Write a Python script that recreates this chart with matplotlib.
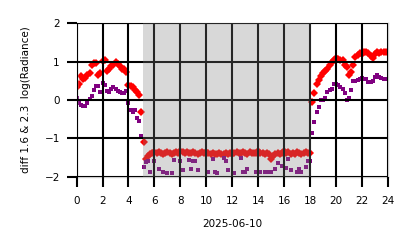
import matplotlib
matplotlib.use("Agg")
import matplotlib.pyplot as plt
import numpy as np

# hours of the day, 10 minute steps
hours = np.arange(144) / 6.0

# diff of log radiance, 1.6 um channel (red)
diff_16 = [
    0.35, 0.42, 0.63, 0.55, 0.58, 0.66,
    0.70, 0.92, 0.96, 0.97, 0.66, 0.70,
    1.02, 1.05, 0.76, 0.82, 0.88, 0.92,
    1.00, 0.94, 0.88, 0.80, 0.82, 0.72,
    0.40, 0.37, 0.33, 0.27, 0.21, 0.14,
    -0.32, -1.10, -1.55, -1.46, -1.40, -1.37,
    -1.36, -1.38, -1.35, -1.37, -1.40, -1.38,
    -1.36, -1.39, -1.42, -1.38, -1.35, -1.37,
    -1.33, -1.36, -1.38, -1.35, -1.37, -1.39,
    -1.36, -1.38, -1.40, -1.37, -1.36, -1.39,
    -1.35, -1.38, -1.41, -1.39, -1.42, -1.40,
    -1.38, -1.40, -1.42, -1.39, -1.41, -1.38,
    -1.40, -1.37, -1.36, -1.39, -1.38, -1.36,
    -1.37, -1.40, -1.36, -1.38, -1.39, -1.37,
    -1.34, -1.37, -1.39, -1.42, -1.38, -1.41,
    -1.55, -1.45, -1.42, -1.39, -1.40, -1.37,
    -1.34, -1.37, -1.36, -1.40, -1.38, -1.41,
    -1.36, -1.39, -1.42, -1.37, -1.35, -1.38,
    -1.38, -0.05, 0.17, 0.42, 0.52, 0.63,
    0.70, 0.75, 0.80, 0.90, 0.98, 1.04,
    1.09, 1.08, 1.05, 1.04, 0.90, 0.86,
    0.65, 0.72, 0.91, 1.12, 1.18, 1.22,
    1.20, 1.24, 1.26, 1.22, 1.15, 1.10,
    1.20, 1.26, 1.22, 1.25, 1.24, 1.26,
]

# diff of log radiance, 2.3 um channel (purple)
diff_23 = [
    0.04, -0.09, -0.12, -0.15, -0.15, -0.07,
    0.02, 0.10, 0.26, 0.37, 0.36, 0.20,
    0.45, 0.40, 0.24, 0.22, 0.30, 0.33,
    0.30, 0.24, 0.20, 0.19, 0.17, 0.24,
    -0.09, -0.26, -0.30, -0.27, -0.47, -0.56,
    -0.94, -1.76, -1.61, -1.60, -1.87, -2.10,
    -1.60, -2.15, -1.81, -2.05, -1.87, -2.20,
    -1.91, -2.10, -1.90, -1.57, -2.05, -2.30,
    -1.59, -1.83, -2.10, -2.20, -1.57, -1.80,
    -1.60, -1.58, -1.83, -2.10, -2.25, -2.05,
    -2.10, -1.87, -2.20, -1.55, -1.87, -1.90,
    -2.15, -2.05, -1.50, -1.60, -1.83, -2.10,
    -2.20, -1.90, -2.05, -2.30, -1.50, -1.87,
    -1.88, -1.80, -2.10, -2.20, -2.05, -1.87,
    -2.15, -1.87, -2.10, -1.89, -2.20, -1.87,
    -1.87, -2.05, -1.81, -1.64, -2.10, -1.72,
    -2.05, -1.78, -1.55, -1.83, -2.15, -2.10,
    -1.88, -1.81, -1.87, -2.20, -1.74, -1.58,
    -1.60, -0.87, -0.57, -0.30, -0.18, 0.00,
    0.00, 0.05, 0.22, 0.25, 0.30, 0.43,
    0.43, 0.39, 0.35, 0.30, 0.17, 0.00,
    0.05, 0.26, 0.50, 0.50, 0.52, 0.55,
    0.57, 0.55, 0.55, 0.48, 0.48, 0.50,
    0.60, 0.65, 0.60, 0.58, 0.55, 0.55,
]

night_start = 5.15
night_end = 18.05

fig = plt.figure(figsize=(4.14, 2.48), dpi=100)
ax = fig.add_axes([0.185, 0.2875, 0.752, 0.6185])

ax.plot(hours, diff_16, 'D', color='red', ms=4.0, mew=0, zorder=2)
ax.plot(hours, diff_23, 's', color='purple', ms=3.0, mew=0, zorder=2)

# night shading sits on top of the points
ax.axvspan(night_start, night_end, color='gray', alpha=0.3, lw=0, zorder=3)

ax.set_xlim(0, 24)
ax.set_ylim(-2, 2)
ax.set_xticks(np.arange(0, 25, 2))
ax.set_yticks([-2, -1, 0, 1, 2])
ax.grid(True, color='black', lw=1.5, zorder=4)
ax.set_axisbelow(False)
ax.tick_params(length=7, width=1.5, color='black', labelsize=7.5)
ax.tick_params(axis='x', pad=7)
ax.tick_params(axis='y', pad=5)
for s in ax.spines.values():
    s.set_color('#cccccc')
    s.set_linewidth(1.0)

ax.set_xlabel('2025-06-10', fontsize=7.5, labelpad=9)
ax.set_ylabel('diff 1.6 & 2.3  log(Radiance)', fontsize=7.5, labelpad=10)

fig.savefig('out.png', dpi=100)
